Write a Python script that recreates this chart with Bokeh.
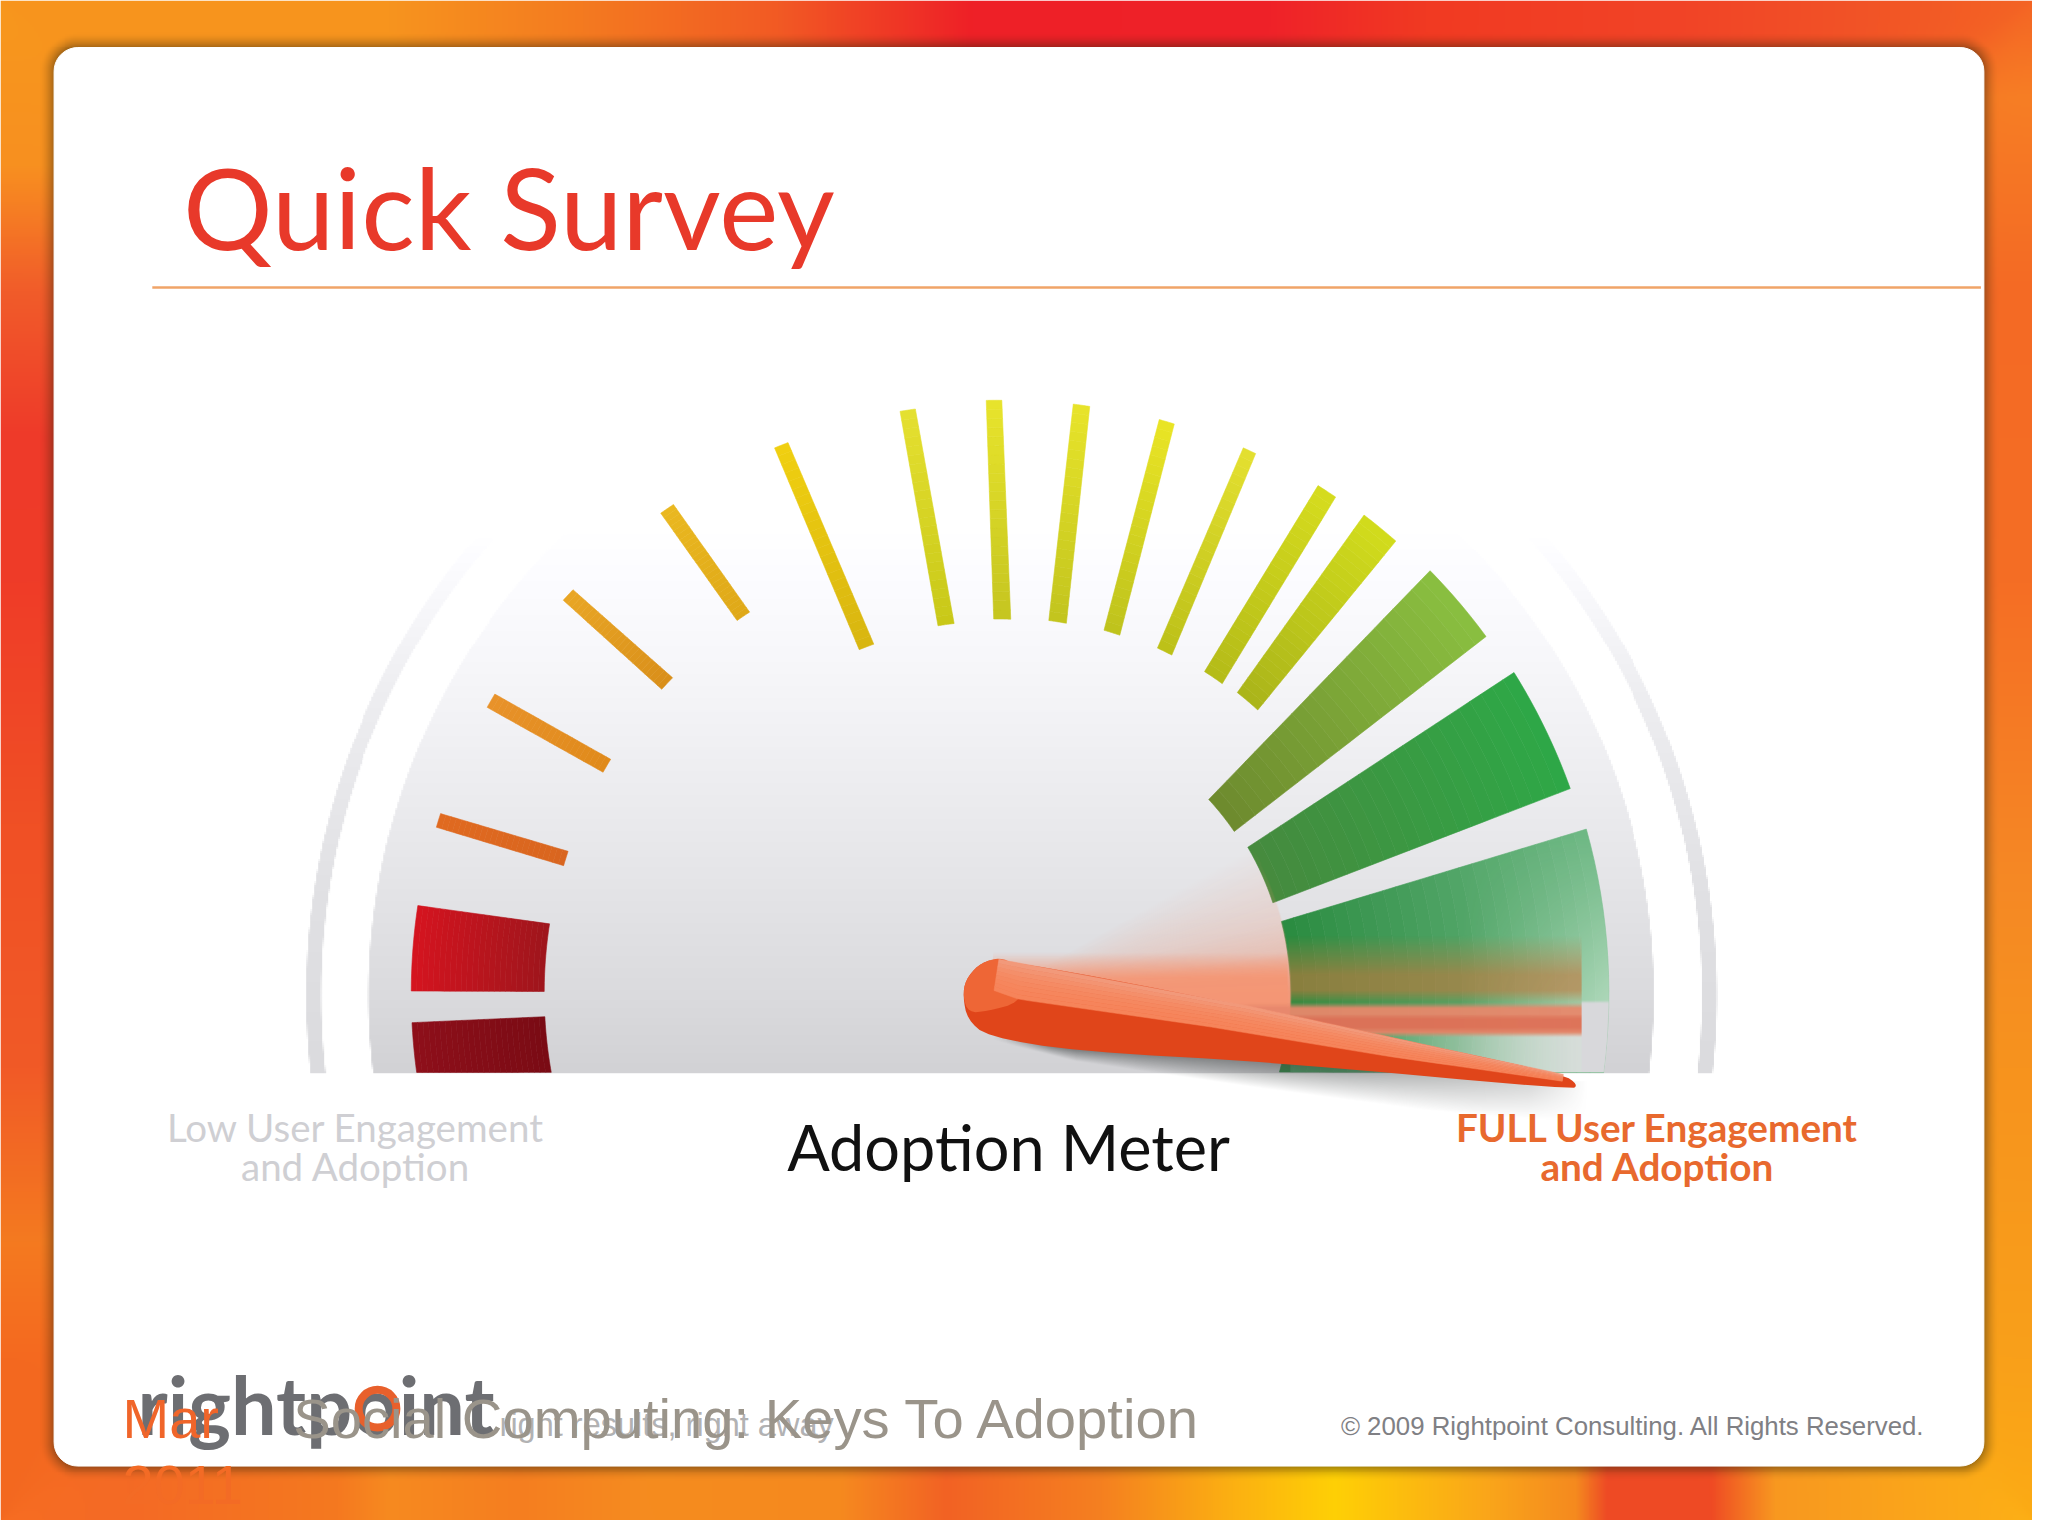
import numpy as np
from bokeh.plotting import figure
from bokeh.models import Range1d
from bokeh.embed import file_html
from bokeh.resources import INLINE

# ---------- chart content ----------
title = "Quick Survey"
meter_label = "Adoption Meter"
low_label = ["Low User Engagement", "and Adoption"]
full_label = ["FULL User Engagement", "and Adoption"]
footer_date = ["Mar", "2011"]
footer_title = "Social Computing: Keys To Adoption"
footer_copy = "\u00a9 2009 Rightpoint Consulting.  All Rights Reserved."
logo_word = "rightpoint"
logo_tag = "right results, right away"

# gauge segments, right to left; angle in degrees from the right, anticlockwise
seg_outer_from = [-7.5, 19.7, 36.2, 48.7, 55.8, 64.5, 72.8, 81.1, 89.6, 98.0, 110.8, 123.5, 136.4, 149.2, 162.1, 171.4, 182.9]
seg_outer_to = [15.6, 31.9, 44.4, 52.6, 57.8, 65.8, 74.3, 82.7, 91.1, 99.5, 112.2, 125.0, 137.8, 150.7, 163.5, 179.8, 187.8]
seg_inner_from = [-15.7, 18.2, 34.4, 47.5, 54.1, 62.8, 71.2, 79.5, 88.0, 96.7, 109.5, 123.0, 135.8, 148.8, 161.7, 171.2, 183.0]
seg_inner_to = [14.2, 30.3, 42.6, 51.5, 57.3, 65.2, 73.7, 82.2, 90.6, 99.2, 111.9, 124.9, 137.8, 150.7, 163.6, 179.8, 190.1]
seg_inner_r = [295, 292, 289, 388, 386, 384, 382, 380, 378, 376, 374, 459, 457, 456, 456, 457, 457]
seg_outer_r = [616, 613, 610, 608, 606, 604, 602, 600, 599, 596, 595, 592, 591, 590, 590, 591, 591]
seg_inner_col = ["#2a8b40", "#468a3e", "#6d8a2e", "#aab41a", "#b4bb18", "#bcc018", "#bec21c", "#c2c41e", "#c5c520",
                 "#c8c818", "#d8b510", "#dfa818", "#d98f1a", "#e08a1a", "#d9651f", "#9e151c", "#7a0b14"]
seg_outer_col = ["#6fb985", "#2ea847", "#8abf40", "#d2dc1c", "#d6dc1e", "#e4e030", "#eae525", "#e8e42a", "#e8e42c",
                 "#e5e030", "#f0d010", "#eab820", "#e9a625", "#e8922a", "#e06a20", "#d5141f", "#8e0f1a"]

needle_angle = -8.8
needle_length = 590.0

# ---------- frame helpers ----------
W, H = 2048, 1536
CX, CY = 1005.0, 1003.0
BASE = 1083.0


def Y(y):
    return H - np.asarray(y, dtype=float)


def hexrgb(c):
    return np.array([int(c[i:i + 2], 16) for i in (1, 3, 5)], dtype=float)


def rgbhex(v):
    return "#%02x%02x%02x" % tuple(int(round(float(x))) for x in v)


def to_img(rgb, a):
    out = np.zeros(a.shape + (4,), dtype=np.uint8)
    out[..., :3] = np.clip(rgb, 0, 255).astype(np.uint8)
    out[..., 3] = np.clip(a * 255, 0, 255).astype(np.uint8)
    out = out[::-1]
    return out.view(np.uint32).reshape(a.shape)


def interp_cols(q, stops, cols):
    arr = np.array([hexrgb(c) for c in cols])
    return np.stack([np.interp(q, stops, arr[:, k]) for k in range(3)], axis=-1)


def over(rgb, a, col, alpha):
    alpha = np.clip(alpha, 0, 1)
    col = np.asarray(col, dtype=float)
    out = alpha + a * (1 - alpha)
    safe = np.maximum(out, 1e-5)
    res = (col * alpha[..., None] + rgb * (a * (1 - alpha))[..., None]) / safe[..., None]
    return res, out


p = figure(width=2032, height=1520, x_range=Range1d(0, W), y_range=Range1d(0, H),
           output_backend="svg", toolbar_location=None, min_border=0,
           outline_line_color=None, background_fill_color="white", border_fill_color="white")
p.axis.visible = False
p.grid.visible = False

# ---------- slide background (halved resolution) ----------
sc = 2
xs = np.arange(0, W, sc) + 1.0
ys = np.arange(0, H, sc) + 1.0
GX, GY = np.meshgrid(xs, ys)
top = interp_cols(GX, [0, 392, 588, 784, 980, 1280, 1437, 1698, 1894, 2048],
                  ["#f7941e", "#f7941e", "#f47a20", "#f25a24", "#ee2027", "#ef2229", "#f13a22", "#f14427", "#f25526", "#f46424"])
bot = interp_cols(GX, [0, 130, 340, 392, 522, 653, 849, 953, 1110, 1241, 1345, 1502, 1587, 1620, 1724, 1789, 2048],
                  ["#f76d22", "#f46a25", "#f5791f", "#f78a20", "#f57e20", "#f68c1f", "#f6891f", "#f26224", "#f58020", "#fcb012", "#ffd005", "#faa51a", "#f58a1f", "#ee4a25", "#ef4a24", "#f89820", "#fdb016"])
lef = interp_cols(GY, [0, 167, 294, 441, 588, 833, 1078, 1254, 1372, 1536],
                  ["#f8981d", "#f89020", "#f15c2a", "#ee3a2a", "#ef3c28", "#f05025", "#f15a27", "#f47a20", "#f4691f", "#f36820"])
rig = interp_cols(GY, [0, 98, 294, 588, 882, 1078, 1372, 1536],
                  ["#f46525", "#f77e24", "#f46a25", "#f56e25", "#f58825", "#f7931e", "#f9a01a", "#fcab14"])
dt, db, dl, dr = GY + 4, (H - GY) + 4, GX + 4, (W - GX) + 4
wt, wb, wl, wr = dt ** -3.0, db ** -3.0, dl ** -3.0, dr ** -3.0
s = wt + wb + wl + wr
bg = (top * wt[..., None] + bot * wb[..., None] + lef * wl[..., None] + rig * wr[..., None]) / s[..., None]

# shadow of the card
L, R, T, B, RAD = 54.0, 1999.0, 47.5, 1481.0, 24.0
qx = np.abs(GX - (L + R) / 2) - ((R - L) / 2 - RAD)
qy = np.abs(GY - (T + B) / 2) - ((B - T) / 2 - RAD)
dist = np.hypot(np.maximum(qx, 0), np.maximum(qy, 0)) + np.minimum(np.maximum(qx, qy), 0) - RAD
sh = np.clip(1 - dist / 15.0, 0, 1) ** 1.6 * 0.42
bg = bg * (1 - sh[..., None]) + np.array([45.0, 35.0, 10.0]) * sh[..., None]
p.image_rgba(image=[to_img(bg, np.ones_like(sh))], x=0, y=0, dw=W, dh=H)


# ---------- card ----------
def round_rect(l, r, t, b, rad, n=10):
    ang = np.linspace(0, np.pi / 2, n)
    xs_, ys_ = [], []
    for cx_, cy_, st in ((r - rad, t + rad, -np.pi / 2), (r - rad, b - rad, 0), (l + rad, b - rad, np.pi / 2), (l + rad, t + rad, np.pi)):
        xs_ += list(cx_ + rad * np.cos(ang + st))
        ys_ += list(cy_ + rad * np.sin(ang + st))
    return xs_, ys_


cxs, cys = round_rect(L, R, T, B, RAD)
p.patch(cxs, Y(cys), fill_color="white", line_color="white", line_width=1)


def label(x, y, txt, font, size, color, align="left", style="normal", alpha=1.0):
    p.text([x], Y([y - 0.39 * size]), text=[txt], text_font={"value": font}, text_font_size={"value": f"{size}px"},
           text_color=color, text_align=align, text_baseline="alphabetic", text_font_style=style, text_alpha=alpha)


# title and rule
label(184, 252, title, "Lato", 112, "#e8392a")
p.segment([153], Y([290]), [1996], Y([290]), line_color="#f0a468", line_width=2.5)

# ---------- gauge face ----------
x0f, x1f, y0f, y1f = 300, 1740, 290, 1084
fx = np.arange(x0f, x1f, sc) + 1.0
fy = np.arange(y0f, y1f, sc) + 1.0
FX, FY = np.meshgrid(fx, fy)
frgb = np.zeros(FX.shape + (3,))
fa = np.zeros(FX.shape)
rr = np.hypot(FX - 1018.5, FY - 1005.0)
ring_val = np.interp(FY, [520, 560, 700, 900, 1083], [255, 250, 235, 222, 216]) + 3
ring_mask = np.clip(rr - 695, 0, 1) * np.clip(711 - rr, 0, 1)
ring_col = np.stack([ring_val, ring_val, ring_val + 3], axis=-1)
frgb = np.where((ring_mask > 0)[..., None], ring_col, frgb)
fa = np.maximum(fa, ring_mask)
disc_val = np.interp(FY, [540, 670, 768, 865, 1000, 1083], [255, 247, 239, 231, 219, 210])
disc_mask = np.clip(648 - rr, 0, 1)
disc_col = np.stack([disc_val, disc_val, disc_val + 3], axis=-1)
frgb = np.where((disc_mask > 0)[..., None], disc_col, frgb)
fa = np.maximum(fa, disc_mask)
p.image_rgba(image=[to_img(frgb, fa)], x=x0f, y=float(Y(y1f)), dw=x1f - x0f, dh=y1f - y0f)


# ---------- gauge segments ----------
def pol(a, r):
    a = np.radians(a)
    return np.array([CX + r * np.cos(a), CY - r * np.sin(a)])


def edge_point(a_in, r_in, a_out, r_out, t):
    q = pol(a_in, r_in) * (1 - t) + pol(a_out, r_out) * t
    dx, dy = q[0] - CX, CY - q[1]
    return np.degrees(np.arctan2(dy, dx)) % 360, np.hypot(dx, dy)


def unwrap(a, ref):
    return a - 360 if a - ref > 180 else a


strip_x, strip_y, strip_c = [], [], []
for i in range(len(seg_inner_r)):
    ri, ro = seg_inner_r[i], seg_outer_r[i]
    ci, co = hexrgb(seg_inner_col[i]), hexrgb(seg_outer_col[i])
    nst = 24
    for j in range(nst):
        t0, t1 = j / nst, (j + 1) / nst
        pts = []
        for t, rev in ((t0, False), (t1, True)):
            a0, r0 = edge_point(seg_inner_from[i], ri, seg_outer_from[i], ro, t)
            a1, r1 = edge_point(seg_inner_to[i], ri, seg_outer_to[i], ro, t)
            a0 = unwrap(a0, a1)
            aa = np.linspace(a0, a1, 16)
            rs = np.linspace(r0, r1, 16)
            q = pol(aa, rs)
            pts.append(q[:, ::-1] if rev else q)
        q = np.concatenate(pts, axis=1)
        strip_x.append(q[0])
        strip_y.append(Y(q[1]))
        strip_c.append(rgbhex(ci + (co - ci) * (t0 + t1) / 2))
p.patches(strip_x, strip_y, fill_color=strip_c, line_color=strip_c, line_width=0.6)

# ---------- motion blur, fades, shadow (full resolution) ----------
x0s, x1s, y0s, y1s = 950, 1650, 790, 1170
sx = np.arange(x0s, x1s) + 0.5
sy = np.arange(y0s, y1s) + 0.5
SX, SY = np.meshgrid(sx, sy)
srgb = np.zeros(SX.shape + (3,))
sa = np.zeros(SX.shape)
rad = np.hypot(SX - CX, SY - CY)
ang = np.degrees(np.arctan2(CY - SY, SX - CX))
above = (SY < BASE).astype(float)
low_edge = np.interp(SX, [995, 1084, 1289, 1584], [1047, 1061, 1073, 1100])

# fan behind the needle
in_fan = np.clip(296 - rad, 0, 1) * above * (SY < low_edge - 3) * (SX > 1000)
fan_a = np.interp(ang, [-20, 0, 3, 5, 8, 14, 30, 31], [0.95, 0.92, 0.78, 0.62, 0.38, 0.22, 0, 0]) * np.clip(rad / 60, 0, 1)
srgb, sa = over(srgb, sa, (244, 146, 112), fan_a * in_fan)
band = np.clip((SY - 962) / 26, 0, 1) * (SX > 1000) * np.clip(1298 - SX, 0, 1) * (SY < low_edge - 3) * 0.88
srgb, sa = over(srgb, sa, (245, 150, 116), band)

# fade of the last green segment
in_g3 = np.clip(rad - 295, 0, 1) * np.clip(616 - rad, 0, 1) * above * (ang < 16)
pale = np.clip((SX - 1470) / 150, 0, 1) * np.clip((SY - 840) / 170, 0, 1) * 0.55
srgb, sa = over(srgb, sa, (225, 240, 228), pale * in_g3)
low = np.clip((SX - 1350) / 240, 0, 1) * np.clip((SY - 1040) / 6, 0, 1) * 0.95
srgb, sa = over(srgb, sa, (218, 222, 220), low * in_g3)
rightcut = (SX > 1593) * np.clip((SY - 1010) / 3, 0, 1)
srgb, sa = over(srgb, sa, (216, 216, 219), rightcut * in_g3)
srgb, sa = over(srgb, sa, (90, 178, 120), np.clip((SY - 1045) / 5, 0, 1) * np.clip((1450 - SX) / 150, 0, 1) * 0.6 * in_g3 * (SX > 1300))

# ghost of the needle across the green
brown = np.clip((SY - 945) / 40, 0, 1) * np.clip((1014 - SY) / 14, 0, 1) * 0.62
srgb, sa = over(srgb, sa, (196, 120, 62), brown * (SX > 1298) * (SX < 1593) * in_g3)
bar = np.clip((SY - 1012) / 6, 0, 1) * np.clip((1048 - SY) / 5, 0, 1) * np.clip((SX - 1240) / 20, 0, 1) * (SX < 1593)
srgb, sa = over(srgb, sa, (232, 136, 108), bar * 0.95)
barcore = np.clip((SY - 1024) / 6, 0, 1) * np.clip((1044 - SY) / 6, 0, 1) * np.clip((SX - 1250) / 20, 0, 1) * (SX < 1593)
srgb, sa = over(srgb, sa, (218, 100, 76), barcore * 0.6)

# needle shadow
lim_edge = np.interp(SX, [995, 1084, 1262, 1486, 1600], [1050, 1072, 1098, 1128, 1135])
dd = (SY - low_edge) / np.maximum(lim_edge - low_edge, 1)
shade = np.clip(1 - dd, 0, 1) * np.clip((SX - 1000) / 60, 0, 1) * np.interp(SX, [1000, 1300, 1540, 1600], [0.6, 0.58, 0.22, 0.0]) * (SY > low_edge - 8)
srgb, sa = over(srgb, sa, (70, 74, 74), shade)
p.image_rgba(image=[to_img(srgb, sa)], x=x0s, y=float(Y(y1s)), dw=x1s - x0s, dh=y1s - y0s)

# ---------- needle ----------
na = np.radians(needle_angle)
dirx, diry = np.cos(na) * needle_length / 590, -np.sin(na) * needle_length / 590
nox, noy = np.sin(na), np.cos(na)


def needle_pts(u, off):
    u, off = np.asarray(u, float), np.asarray(off, float)
    return CX + u * dirx + off * nox, CY + u * diry + off * noy


def chaikin(x, y, n=2):
    for _ in range(n):
        x2, y2 = np.roll(x, -1), np.roll(y, -1)
        x = np.column_stack([0.75 * x + 0.25 * x2, 0.25 * x + 0.75 * x2]).ravel()
        y = np.column_stack([0.75 * y + 0.25 * y2, 0.25 * y + 0.75 * y2]).ravel()
    return x, y


out_u = [-7, 247, 439, 576, 592, 587, 291, 87, -4, -26, -34, -34, -24]
out_o = [-35, -26, -14, -6, 2, 8, 26, 46, 45, 31, 9, -8, -25]
nx, ny = chaikin(*needle_pts(out_u, out_o))
p.patch(nx, Y(ny), fill_color="#e0451a", line_color=None)

rim_u = [8, -7, -24, -34, -34, -26, -8, 24, 24]
rim_o = [-34, -35, -25, -8, 9, 24, 20, 6, -20]
rx, ry = chaikin(*needle_pts(rim_u, rim_o))
p.patch(rx, Y(ry), fill_color="#ee6636", line_color=None)

us = np.linspace(-4, 576, 48)
upper = np.interp(us, [-7, 247, 439, 576], [-34, -26, -14, -6])
ridge = np.interp(us, [-4, 22, 215, 396, 576], [-2, 3, 1, 3, 1])
n_light = 8
c_a, c_b = hexrgb("#f6845a"), hexrgb("#f1a084")
lx, ly, lc = [], [], []
for k in range(n_light):
    f0, f1 = k / n_light, (k + 1) / n_light
    o0 = ridge + (upper - ridge) * f0
    o1 = ridge + (upper - ridge) * f1
    ax_, ay_ = needle_pts(us, o0)
    bx_, by_ = needle_pts(us[::-1], o1[::-1])
    lx.append(np.concatenate([ax_, bx_]))
    ly.append(Y(np.concatenate([ay_, by_])))
    lc.append(rgbhex(c_a + (c_b - c_a) * (f0 ** 2)))
p.patches(lx, ly, fill_color=lc, line_color=lc, line_width=0.5)

# ---------- labels ----------
label(1016, 1183, meter_label, "Lato", 63, "#111111", "center")
label(358, 1153, low_label[0], "Lato", 38.5, "#cfcfd3", "center")
label(358, 1193, low_label[1], "Lato", 38.5, "#cfcfd3", "center")
label(1670, 1153, full_label[0], "Lato", 38.7, "#e8692e", "center", "bold")
label(1670, 1193, full_label[1], "Lato", 38.7, "#e8692e", "center", "bold")

# ---------- footer ----------
label(138, 1449, logo_word, "Lato", 81, "#6d6e72", style="bold")
p.circle([380], Y([1423]), radius=19, fill_color=None, line_color="#e8602c", line_width=8)
label(503, 1452, logo_tag, "Liberation Sans", 32.5, "#a4a4a6", alpha=0.85)
label(123, 1455, footer_date[0], "Liberation Sans", 56, "#f0652a")
label(123, 1522, footer_date[1], "Liberation Sans", 56, "#f36b25")
label(295, 1455, footer_title, "Liberation Sans", 56.2, "#9a948a")
label(1351, 1451, footer_copy, "Liberation Sans", 25.8, "#808084")

open("out.html", "w").write(file_html(p, INLINE))
